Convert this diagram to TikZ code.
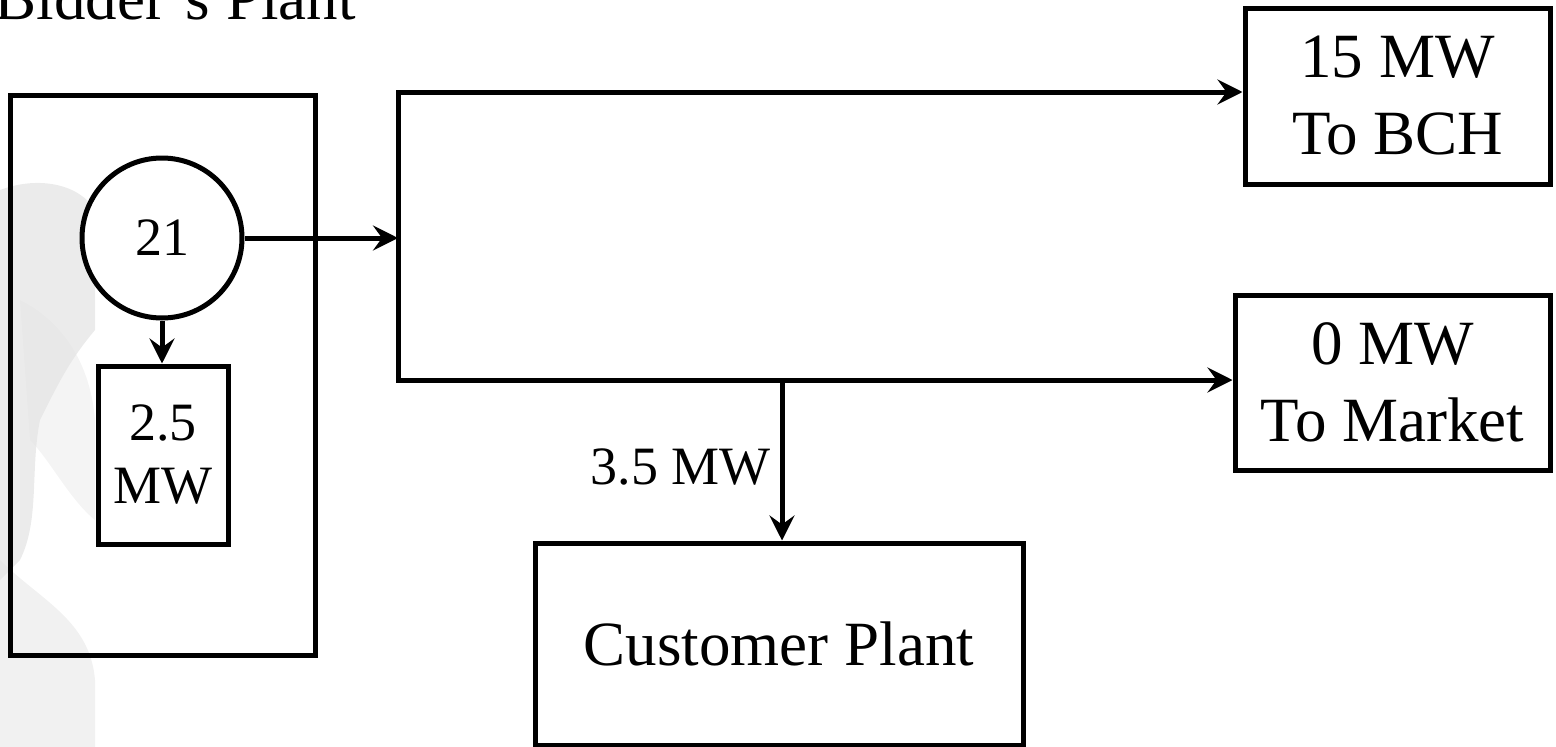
\documentclass[tikz,border=0pt]{standalone}
\usepackage{fontspec}
\setmainfont{Liberation Serif}
\usetikzlibrary{arrows.meta}
\begin{document}
\begin{tikzpicture}[x=1pt,y=-1pt,
  line width=5pt,
  boxnode/.style={draw, fill=white, inner sep=0pt, align=center},
  bigtext/.style={font=\fontsize{63}{77}\selectfont},
  smalltext/.style={font=\fontsize{54}{63}\selectfont},
  flow/.style={-{Stealth[length=25pt,width=25pt,inset=9pt]}},
  wm/.style={fill=black!11, draw=none}
]
\useasboundingbox (0,0) rectangle (1556,747);
\clip (0,0) rectangle (1556,747);
% faint watermark on the left
\fill[wm, opacity=0.7] (0,190) .. controls (40,175) and (80,185) .. (95,210) -- (95,330) .. controls (70,360) and (60,380) .. (40,420) .. controls (30,470) and (40,520) .. (20,560) -- (0,580) -- cycle;
\fill[wm, opacity=0.5] (0,560) .. controls (40,600) and (90,620) .. (95,680) -- (95,747) -- (0,747) -- cycle;
\fill[wm, opacity=0.4] (20,300) .. controls (60,320) and (90,360) .. (95,420) -- (95,520) .. controls (70,500) and (50,460) .. (30,440) -- cycle;

% title (cut off at the top, as in the reference)
\node[anchor=base west, inner sep=0pt, bigtext] (title) at (-8,19) {Bidder's Plant};

% bidder's plant
\node[draw, inner sep=0pt, minimum width=305pt, minimum height=560pt] (plant) at (162.5,375) {};
\node[boxnode, circle, minimum size=160pt, smalltext] (gen) at (162,238) {21};
\node[boxnode, minimum width=130pt, minimum height=178pt, smalltext] (load) at (163,455) {2.5\\MW};

% destinations
\node[boxnode, minimum width=305pt, minimum height=176pt, bigtext] (bch) at (1397.5,96) {15 MW\\To BCH};
\node[boxnode, minimum width=315pt, minimum height=175pt, bigtext] (mkt) at (1392.5,382.5) {0 MW\\To Market};
\node[boxnode, minimum width=488pt, minimum height=202pt, bigtext] (cust) at (779,644) {Customer Plant};

% bus
\coordinate (bustop) at (398,92);
\coordinate (busbot) at (398,380);
\coordinate (tap) at (782,380);

\draw[flow] (gen.east) -- (gen.east -| bustop);
\draw[line cap=rect] (bustop) -- (busbot);
\draw[flow] (bustop) -- (bch.west |- bustop);
\draw[flow] (busbot) -- (mkt.west |- busbot);
\draw[flow] (tap) -- (tap |- cust.north);
\draw[flow] (gen.south) -- (gen.south |- load.north);

\node[anchor=base east, inner sep=0pt, smalltext] (lbl) at (773,484) {3.5 MW};
\end{tikzpicture}
\end{document}
